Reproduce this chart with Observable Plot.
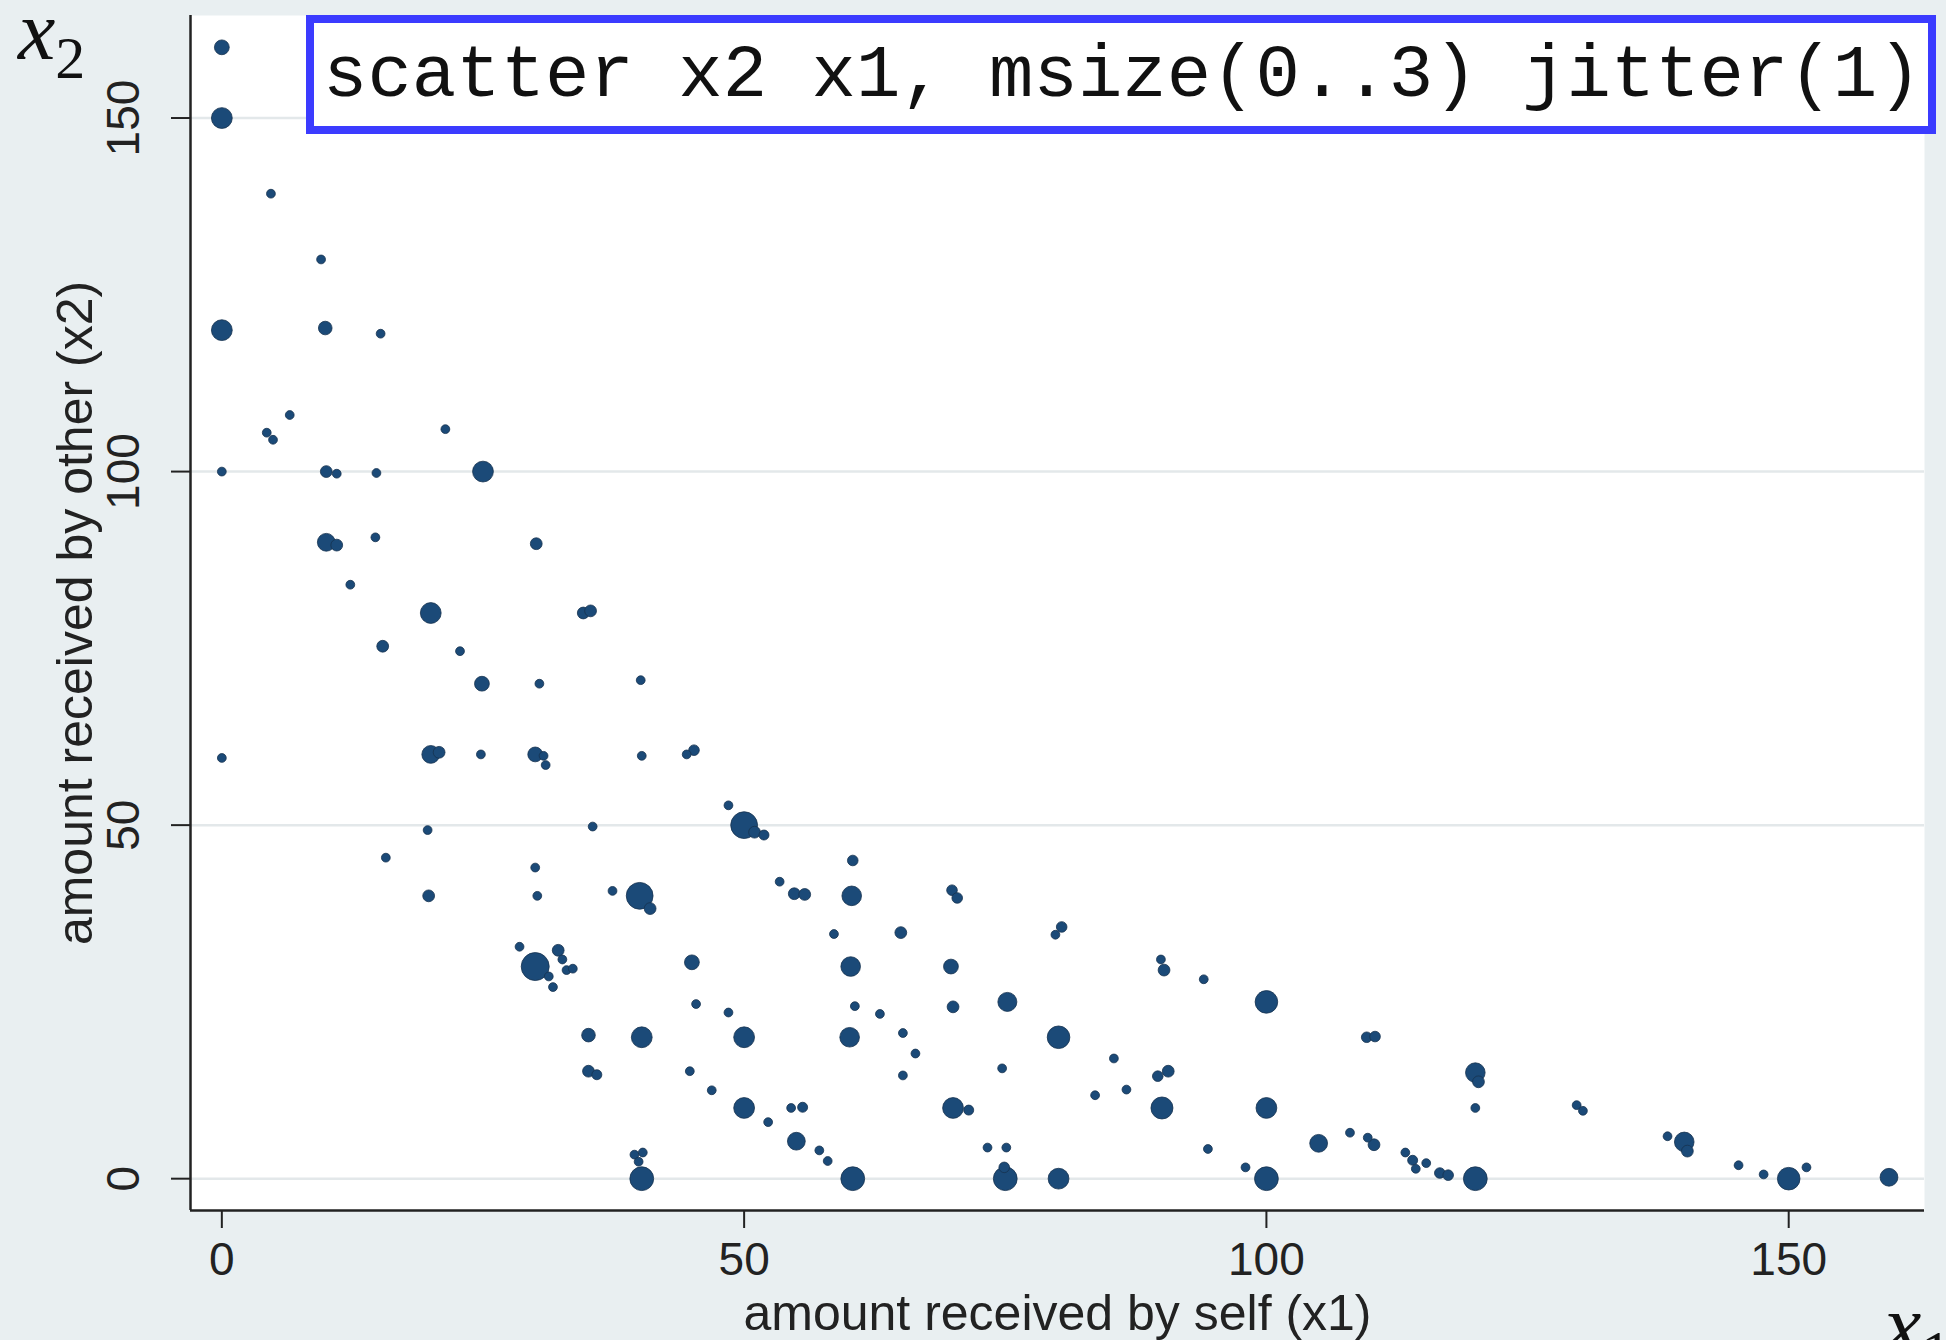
<!DOCTYPE html>
<html>
<head>
<meta charset="utf-8">
<script src="https://cdn.jsdelivr.net/npm/d3@7"></script>
<script src="https://cdn.jsdelivr.net/npm/@observablehq/plot@0.6"></script>
<style>
  html, body { margin: 0; padding: 0; background: #e9eff1; overflow: hidden; }
  #wrap { position: relative; width: 1946px; height: 1340px; overflow: hidden; background: #e9eff1; }
  #chart svg { display: block; }
  #cmd {
    position: absolute; left: 306px; top: 15px; width: 1630px; height: 119px;
    box-sizing: border-box; border: 8px solid #3b3bff; background: #fff;
    font-family: "Liberation Mono", "DejaVu Sans Mono", monospace; font-size: 74px;
    line-height: 107px; padding-left: 9px; white-space: nowrap; color: #111;
  }
  .math { position: absolute; font-family: "Liberation Serif", "DejaVu Serif", serif; color: #111; line-height: 0.7; }
  .math i { font-size: 84px; }
  .math sub { font-size: 60px; font-style: normal; vertical-align: -0.32em; line-height: 0.7; }
</style>
</head>
<body>
<div id="wrap">
  <div id="chart"></div>
  <div id="cmd">scatter x2 x1, msize(0..3) jitter(1)</div>
  <div class="math" style="left:18px; top:2px;"><i>x</i><sub>2</sub></div>
  <div class="math" style="left:1884px; top:1296px;"><i>x</i><sub>1</sub></div>
</div>
<script>
// Amount received by self (x1), amount received by other (x2), and relative
// weight of each jittered cluster (number of overlapping observations).
const x1 = [
  0,0,0,0,0,4.7,4.3,4.9,6.5,9.5,
  9.9,10,11,10,11,12.3,14.8,14.7,15.2,15.4,
  15.7,21.4,20,20,20.8,19.7,19.8,22.8,25,24.9,
  24.8,30.1,30.4,30,30.8,31,30,30.2,28.5,30,
  31.3,32.2,32.6,33,33.6,31.7,34.6,35.3,35.5,35.1,
  35.1,35.9,37.4,40.1,40.2,40,41,40.2,39.5,39.9,
  40.3,40.2,44.5,45.2,45,45.4,44.8,46.9,48.5,48.5,
  50,51,51.9,50,50,52.3,53.4,54.8,55.8,54.5,
  55.6,55,57.2,58,58.6,60.4,60.3,60.2,60.6,60.1,
  60.4,63,65,65.2,66.4,65.2,69.9,70.4,69.8,70,
  70,71.5,73.3,75.1,74.9,75,75.2,74.7,79.8,80.4,
  80.1,80.1,83.6,85.4,86.6,89.9,90.2,90,89.6,90.6,
  94,94.4,98,100,100,100,105,108,109.7,110.3,
  109.6,110.4,113.3,114,114.3,115.3,116.6,117.4,120,120,
  120.3,120,129.7,130.3,138.4,140,140.3,145.2,147.6,150,
  151.7,159.6
];
const x2 = [
  160,150,120,100,59.5,139.3,105.5,104.5,108,130,
  120.3,100,99.7,90,89.6,84,99.8,90.7,119.5,75.3,
  45.4,106,80,60,60.3,49.3,40,74.6,100,70,
  60,89.8,70,60,59.8,58.5,44,40,32.8,30,
  28.6,32.3,31,29.5,29.7,27.1,80,80.3,49.8,20.3,
  15.2,14.7,40.7,70.5,59.8,40,38.2,20,3.4,2.4,
  3.7,0,60,60.6,30.6,24.7,15.2,12.5,52.8,23.5,
  50,49,48.6,20,10,8,42,40.3,40.2,10,
  10.1,5.3,4,2.5,34.6,45,40,30,24.4,20,
  0,23.3,34.8,20.6,17.7,14.6,40.8,39.7,30,24.3,
  10,9.7,4.4,4.4,1.6,0,25,15.6,34.5,35.6,
  20,0,11.8,17,12.6,31,29.5,10,14.5,15.2,
  28.2,4.2,1.6,25,10,0,5,6.5,5.8,4.8,
  20,20.1,3.7,2.6,1.4,2.2,0.8,0.5,0,15,
  13.7,10,10.4,9.6,6,5.2,3.9,1.9,0.6,0,
  1.6,0.2
];
const weight = [
  2,3,3,1,1,1,1,1,1,1,
  1.8,1.5,1,2.5,1.5,1,1,1,1,1.5,
  1,1,3,2.5,1.5,1,1.5,1,3,2,
  1,1.5,1,2,1,1,1,1,1,4.2,
  1,1.5,1,1,1,1,1.5,1.5,1,1.8,
  1.5,1.2,1,1,1,4,1.5,3,1,1,
  1,3.5,1,1.3,2,1,1,1,1,1,
  4,1.5,1.2,3,3,1,1,1.5,1.5,1,
  1.2,2.5,1,1,1,1.3,2.8,2.8,1,2.8,
  3.5,1,1.5,1,1,1,1.3,1.3,2,1.5,
  3,1.2,1,1,1.3,3.5,2.7,1,1,1.3,
  3.3,3,1,1,1,1,1.5,3.2,1.3,1.5,
  1,1,1,3.3,3,3.5,2.5,1,1,1.5,
  1.3,1.3,1,1.2,1,1,1.3,1.3,3.5,2.8,
  1.5,1,1,1,1,2.8,1.5,1,1,3.3,
  1,2.5
];
const xTicks = [0, 50, 100, 150];
const yTicks = [0, 50, 100, 150];
const xDomain = [-3, 163];
const yDomain = [-4.5, 164.5];
const xTitle = "amount received by self (x1)";
const yTitle = "amount received by other (x2)";

const data = x1.map((v, i) => ({x1: v, x2: x2[i], w: weight[i]}));

const chart = Plot.plot({
  width: 1946,
  height: 1340,
  marginLeft: 190,
  marginRight: 22,
  marginTop: 15,
  marginBottom: 130,
  x: {domain: xDomain},
  y: {domain: yDomain},
  r: {type: "linear", domain: [1, 4.2], range: [4.4, 14]},
  style: {background: "transparent", fontFamily: "'Liberation Sans', Arial, sans-serif", color: "#222"},
  marks: [
    Plot.frame({fill: "white", stroke: "none"}),
    Plot.gridY(yTicks, {stroke: "#e3e8ea", strokeOpacity: 1, strokeWidth: 2.5}),
    Plot.dot(data, {x: "x1", y: "x2", r: "w", fill: "#1b4a78", stroke: "#17324f", strokeWidth: 0.8}),
    Plot.ruleX([xDomain[0]], {stroke: "#222", strokeWidth: 2.5}),
    Plot.ruleY([yDomain[0]], {stroke: "#222", strokeWidth: 2.5}),
    Plot.axisX({ticks: xTicks, tickSize: 18, tickPadding: 14, fontSize: 46, label: null, strokeWidth: 2}),
    Plot.axisY({ticks: yTicks, tickSize: 19, tickFormat: () => "", label: null, strokeWidth: 2}),
    Plot.text(yTicks, {y: d => d, text: d => String(d), frameAnchor: "left", textAnchor: "middle", lineAnchor: "middle", dx: -66, rotate: -90, fontSize: 46, fill: "#222"}),
    Plot.text([xTitle], {frameAnchor: "bottom", textAnchor: "middle", lineAnchor: "middle", dy: 103, fontSize: 50, fill: "#222"}),
    Plot.text([yTitle], {frameAnchor: "left", textAnchor: "middle", lineAnchor: "middle", dx: -115, rotate: -90, fontSize: 50, fill: "#222"})
  ]
});
document.getElementById("chart").appendChild(chart);
</script>
</body>
</html>
